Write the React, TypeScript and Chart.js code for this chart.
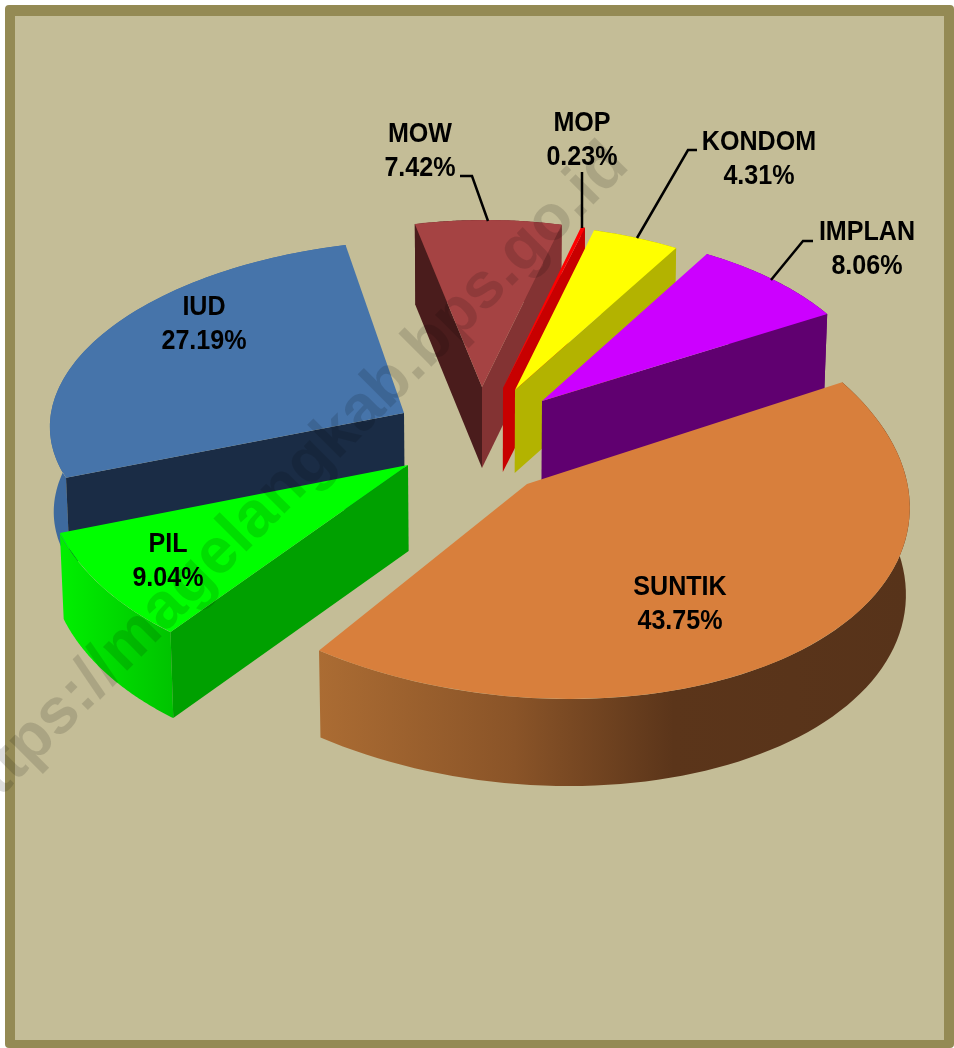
import React, { useEffect, useRef } from "react";
import { Chart, registerables } from "chart.js";

Chart.register(...registerables);

// ---- data (clockwise, starting at the back-most slice so painter's order works)
const categories = ["IUD", "MOW", "MOP", "KONDOM", "IMPLAN", "SUNTIK", "PIL"];
const shares = [27.19, 7.42, 0.23, 4.31, 8.06, 43.75, 9.04];

// ---- style of each slice, same order
const topColors = ["#4674aa", "#a54343", "#ff0000", "#ffff00", "#cc00ff", "#d87f3c", "#00ff00"];
const startFaceColors = ["#1a2c45", "#4a1c1c", "#c80000", "#b3b300", "#600070", "#57331a", "#00a000"];
const endFaceColors = ["#1a2c45", "#833333", "#c80000", "#b3b300", "#600070", "#57331a", "#00a000"];
const rimStops: [number, string][][] = [
  [[0, "#3e6a9e"], [1, "#3e6a9e"]],
  [[0, "#4a1c1c"], [1, "#833333"]],
  [[0, "#c80000"], [1, "#c80000"]],
  [[0, "#b3b300"], [1, "#b3b300"]],
  [[0, "#600070"], [1, "#600070"]],
  [[0, "#ab6c33"], [0.33, "#8a5428"], [0.6, "#5b351a"], [1, "#57331a"]],
  [[0, "#00f000"], [1, "#00c400"]],
];
// exploded offset of each slice from the pie centre, px
const explode = [[-76, -24], [2, -50], [23, -49], [35, -47], [62, -36], [47, 47], [-72, 28]];
// per-slice projection of the unit circle (perspective of the 3D pie), px
const projection = [
  [354, -9, -10, 173],
  [318, -5, 6, 167],
  [290, 0, 0, 167],
  [327, -2, 14, 166],
  [334, -5, 14, 170],
  [381, 3, 37, 215],
  [363, 2, -15, 215],
];
const depth = [85, 81, 84, 83, 82, 87, 86];
// the lower edge of a wall converges slightly to the pie's centre line
const wallConvergence = 0.009;

// ---- annotation layout
const labelCentres = [[204, 308], [420, 135], [582, 124], [759, 143], [867, 233], [680, 588], [168, 545]];
const leaders = [
  [[460, 176], [472, 176], [488, 221]],
  [[582, 172], [582, 228]],
  [[697, 150], [688, 150], [637, 238]],
  [[813, 241], [803, 241], [771, 280]],
];
const watermark = "https://magelangkab.bps.go.id";

const pie3d = {
  id: "pie3d",
  beforeDatasetDraw(chart: any, args: any) {
    const ctx = chart.ctx;
    const meta = chart.getDatasetMeta(args.index);
    meta.data.forEach((el: any, i: number) => {
      const [ox, oy] = explode[i];
      const [a, b, c, d] = projection[i];
      const ax = el.x + ox;
      const ay = el.y + oy;
      const R = el.outerRadius;
      const D = depth[i];
      const P = (t: number): [number, number] => {
        const ux = Math.cos(t);
        const uy = Math.sin(t);
        return [ax + a * ux + c * uy, ay + b * ux + d * uy];
      };
      const low = (p: [number, number]): [number, number] => [
        p[0] + (el.x - p[0]) * wallConvergence,
        p[1] + D,
      ];
      const s = el.startAngle;
      const e = el.endAngle;
      // rim
      const steps = 80;
      const pts: [number, number][] = [];
      for (let k = 0; k <= steps; k++) pts.push(P(s + ((e - s) * k) / steps));
      const xs = pts.map((p) => p[0]);
      const g = ctx.createLinearGradient(Math.min(...xs), 0, Math.max(...xs), 0);
      rimStops[i].forEach(([o, col]) => g.addColorStop(o, col));
      ctx.beginPath();
      pts.forEach((p, k) => (k ? ctx.lineTo(p[0], p[1]) : ctx.moveTo(p[0], p[1])));
      for (let k = steps; k >= 0; k--) {
        const q = low(pts[k]);
        ctx.lineTo(q[0], q[1]);
      }
      ctx.closePath();
      ctx.fillStyle = g;
      ctx.fill();
      // cut faces which look towards the viewer
      const face = (t: number, col: string) => {
        const p = P(t);
        const q = low(p);
        const tip = low([ax, ay]);
        ctx.beginPath();
        ctx.moveTo(ax, ay);
        ctx.lineTo(p[0], p[1]);
        ctx.lineTo(q[0], q[1]);
        ctx.lineTo(tip[0], tip[1]);
        ctx.closePath();
        ctx.fillStyle = col;
        ctx.fill();
      };
      if (P(s)[0] < ax) face(s, startFaceColors[i]);
      if (P(e)[0] > ax) face(e, endFaceColors[i]);
      // top surface: the library's own arc, projected
      ctx.save();
      ctx.transform(a / R, b / R, c / R, d / R, ax, ay);
      ctx.translate(-el.x, -el.y);
      el.draw(ctx);
      ctx.restore();
    });
    return false;
  },
  afterDraw(chart: any) {
    const ctx = chart.ctx;
    const values = chart.data.datasets[0].data;
    // leader lines
    ctx.save();
    ctx.strokeStyle = "#000";
    ctx.lineWidth = 2.5;
    leaders.forEach((line) => {
      ctx.beginPath();
      line.forEach((p, k) => (k ? ctx.lineTo(p[0], p[1]) : ctx.moveTo(p[0], p[1])));
      ctx.stroke();
    });
    ctx.restore();
    // labels
    ctx.save();
    ctx.fillStyle = "#000";
    ctx.textAlign = "center";
    ctx.textBaseline = "middle";
    ctx.font = 'bold 27px "Liberation Sans", Arial, sans-serif';
    chart.data.labels.forEach((name: string, i: number) => {
      const [x, y] = labelCentres[i];
      ctx.save();
      ctx.translate(x, y);
      ctx.scale(0.93, 1);
      ctx.fillText(name, 0, 0);
      ctx.fillText(values[i].toFixed(2) + "%", 0, 34);
      ctx.restore();
    });
    ctx.restore();
    // watermark
    ctx.save();
    ctx.translate(-28, 826);
    ctx.rotate((-45 * Math.PI) / 180);
    ctx.fillStyle = "rgba(0,0,0,0.13)";
    ctx.font = 'bold 64.5px "Liberation Sans", Arial, sans-serif';
    ctx.textAlign = "left";
    ctx.textBaseline = "alphabetic";
    ctx.fillText(watermark, 0, 0);
    ctx.restore();
  },
};

export default function App() {
  const ref = useRef<HTMLCanvasElement>(null);
  useEffect(() => {
    document.body.style.margin = "0";
    const chart = new Chart(ref.current as HTMLCanvasElement, {
      type: "pie",
      data: {
        labels: categories,
        datasets: [
          {
            data: shares,
            backgroundColor: topColors,
            borderWidth: 0,
            hoverOffset: 0,
          },
        ],
      },
      options: {
        responsive: false,
        animation: false,
        devicePixelRatio: 1,
        rotation: 251,
        radius: 200,
        layout: { padding: { left: 6, bottom: 174 } },
        events: [],
        plugins: { legend: { display: false }, tooltip: { enabled: false } },
      },
      plugins: [pie3d],
    } as any);
    return () => chart.destroy();
  }, []);
  return (
    <div style={{ position: "relative", width: 954, height: 1048, background: "#fff", overflow: "hidden" }}>
      <div
        style={{
          position: "absolute",
          left: 5,
          top: 5,
          width: 949,
          height: 1043,
          boxSizing: "border-box",
          borderStyle: "solid",
          borderColor: "#948a54",
          borderWidth: "11px 10px 8px 10px",
          borderRadius: 4,
          background: "#c4bd97",
        }}
      />
      <canvas ref={ref} width={954} height={1048} style={{ position: "absolute", left: 0, top: 0 }} />
    </div>
  );
}
